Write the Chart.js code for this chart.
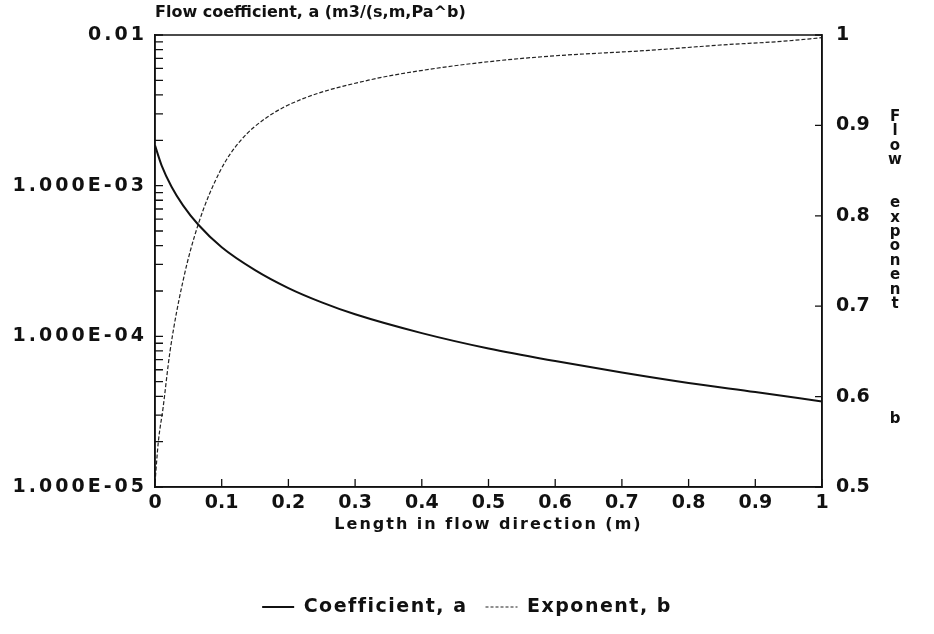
<!DOCTYPE html>
<html>
<head>
<meta charset="utf-8">
<script src="https://cdn.jsdelivr.net/npm/chart.js@4.4.0/dist/chart.umd.min.js"></script>
<style>
  html, body { margin: 0; padding: 0; background: #fff; }
  canvas { display: block; }
</style>
</head>
<body>
<canvas id="chart" width="934" height="634"></canvas>
<script>
// flow coefficient a
const coeffX = [0, 0.01, 0.025, 0.042, 0.065, 0.1, 0.15, 0.2, 0.25, 0.3, 0.4, 0.5, 0.6, 0.7, 0.8, 0.9, 1];
const coeffA = [1.85e-3, 1.36e-3, 9.8e-4, 7.4e-4, 5.5e-4, 3.9e-4, 2.75e-4, 2.09e-4, 1.68e-4, 1.4e-4, 1.05e-4, 8.3e-5, 6.85e-5, 5.75e-5, 4.9e-5, 4.27e-5, 3.7e-5];

// flow exponent b, right axis
const expX = [0, 0.005, 0.012, 0.0225, 0.042, 0.065, 0.098, 0.128, 0.168, 0.22, 0.32, 0.42, 0.52, 0.6, 0.74, 0.85, 0.94, 1];
const expB = [0.505, 0.55, 0.587, 0.65, 0.728, 0.791, 0.85, 0.883, 0.909, 0.929, 0.95, 0.963, 0.972, 0.977, 0.983, 0.989, 0.993, 0.997];

const seriesNames = ['Coefficient, a', 'Exponent, b'];

const decadeValues = [1e-5, 1e-4, 1e-3, 1e-2];
const decadeLabels = ['1.000E-05', '1.000E-04', '1.000E-03', '0.01'];
const leftTitle = 'Flow coefficient, a (m3/(s,m,Pa^b)';
const rightTitle = 'Flow  exponent       b';
const xTitle = 'Length in flow direction (m)';

// tick marks at 1..9 of each decade
const logTicks = [];
for (let d = 0; d < decadeValues.length - 1; d++) {
  for (let k = 1; k < 10; k++) logTicks.push(decadeValues[d] * k);
}
logTicks.push(decadeValues[decadeValues.length - 1]);

const ink = '#111';
const FONT = 'DejaVu Sans';

// the old plotter font is spaced wider than DejaVu, so add letter spacing
function spaceOut(obj, method, spacing) {
  const orig = obj[method];
  if (!orig || orig._spaced) return;
  const wrapped = function () {
    const ctx = this.ctx;
    const prev = ctx.letterSpacing;
    ctx.letterSpacing = spacing;
    const r = orig.apply(this, arguments);
    ctx.letterSpacing = prev;
    return r;
  };
  wrapped._spaced = true;
  obj[method] = wrapped;
}

const spacingPlugin = {
  id: 'spacing',
  afterInit(chart) {
    spaceOut(chart.legend, 'fit', '1.5px');
    spaceOut(chart.legend, 'draw', '1.5px');
  },
  beforeDraw(chart) {
    spaceOut(chart.scales.y, 'drawLabels', '3px');
    spaceOut(chart.scales.x, 'drawTitle', '2px');
  }
};

// ticks drawn inward, plot frame, top-left title and stacked right title
const decorPlugin = {
  id: 'decor',
  afterDraw(chart) {
    const ctx = chart.ctx;
    const a = chart.chartArea;
    ctx.save();
    ctx.strokeStyle = ink;
    ctx.lineWidth = 1.5;
    ctx.strokeRect(a.left, a.top, a.right - a.left, a.bottom - a.top);

    ctx.lineWidth = 1.3;
    ctx.beginPath();
    chart.scales.x.ticks.forEach(t => {
      const px = chart.scales.x.getPixelForValue(t.value);
      ctx.moveTo(px, a.bottom); ctx.lineTo(px, a.bottom - 8);
    });
    chart.scales.y.ticks.forEach(t => {
      const py = chart.scales.y.getPixelForValue(t.value);
      ctx.moveTo(a.left, py); ctx.lineTo(a.left + 8, py);
    });
    chart.scales.y1.ticks.forEach(t => {
      const py = chart.scales.y1.getPixelForValue(t.value);
      ctx.moveTo(a.right, py); ctx.lineTo(a.right - 7, py);
    });
    ctx.stroke();

    ctx.fillStyle = ink;
    ctx.font = 'bold 16px "' + FONT + '"';
    ctx.textAlign = 'left';
    ctx.textBaseline = 'middle';
    ctx.fillText(leftTitle, a.left, 13);

    ctx.textAlign = 'center';
    ctx.font = 'bold 15px "' + FONT + '"';
    rightTitle.split('').forEach((ch, i) => {
      if (ch !== ' ') ctx.fillText(ch, 895, 117 + i * 14.4);
    });
    ctx.restore();
  }
};

new Chart(document.getElementById('chart'), {
  type: 'line',
  data: {
    datasets: [
      {
        label: seriesNames[0],
        data: coeffX.map((x, i) => ({ x: x, y: coeffA[i] })),
        yAxisID: 'y',
        borderColor: ink,
        borderWidth: 2,
        pointRadius: 0,
        cubicInterpolationMode: 'monotone'
      },
      {
        label: seriesNames[1],
        data: expX.map((x, i) => ({ x: x, y: expB[i] })),
        yAxisID: 'y1',
        borderColor: '#222',
        borderWidth: 1.2,
        borderDash: [4, 2],
        pointRadius: 0,
        cubicInterpolationMode: 'monotone'
      }
    ]
  },
  options: {
    responsive: false,
    animation: false,
    devicePixelRatio: 1,
    layout: { padding: { top: 35, left: 0, right: 0, bottom: 7.5 } },
    plugins: {
      tooltip: { enabled: false },
      legend: {
        position: 'bottom',
        labels: {
          color: ink,
          font: { family: FONT, size: 19, weight: 'bold' },
          usePointStyle: true,
          pointStyle: 'line',
          pointStyleWidth: 32,
          padding: 18,
          generateLabels: chart => Chart.defaults.plugins.legend.labels.generateLabels(chart).map(item => {
            const ds = chart.data.datasets[item.datasetIndex];
            item.lineDash = ds.borderDash ? [3, 2] : [];
            item.lineWidth = ds.borderWidth;
            return item;
          })
        }
      }
    },
    scales: {
      x: {
        type: 'linear',
        min: 0,
        max: 1,
        grid: { display: false, drawTicks: false },
        border: { display: true, color: ink, width: 1.5 },
        ticks: {
          stepSize: 0.1,
          padding: 5,
          color: ink,
          font: { family: FONT, size: 19, weight: 'bold' },
          maxRotation: 0,
          autoSkip: false,
          callback: v => (v === 0 || v === 1) ? String(v) : v.toFixed(1)
        },
        title: {
          display: true,
          text: xTitle,
          color: ink,
          font: { family: FONT, size: 16, weight: 'bold' },
          padding: { top: 0, bottom: 45 }
        },
        afterFit: s => { s.height = 92.5; }
      },
      y: {
        type: 'logarithmic',
        position: 'left',
        min: 1e-5,
        max: 1e-2,
        grid: { display: false, drawTicks: false },
        border: { display: true, color: ink, width: 1.5 },
        afterBuildTicks: s => { s.ticks = logTicks.map(v => ({ value: v })); },
        ticks: {
          autoSkip: false,
          padding: 8,
          color: ink,
          font: { family: FONT, size: 19, weight: 'bold' },
          callback: v => {
            const i = decadeValues.findIndex(d => Math.abs(d - v) / d < 1e-6);
            return i >= 0 ? decadeLabels[i] : '';
          }
        },
        afterFit: s => { s.width = 155; }
      },
      y1: {
        type: 'linear',
        position: 'right',
        min: 0.5,
        max: 1,
        grid: { display: false, drawTicks: false },
        border: { display: true, color: ink, width: 1.5 },
        ticks: {
          stepSize: 0.1,
          padding: 14,
          color: ink,
          font: { family: FONT, size: 19, weight: 'bold' },
          callback: v => v === 1 ? '1' : v.toFixed(1)
        },
        afterFit: s => { s.width = 112; }
      }
    }
  },
  plugins: [spacingPlugin, decorPlugin]
});
</script>
</body>
</html>
